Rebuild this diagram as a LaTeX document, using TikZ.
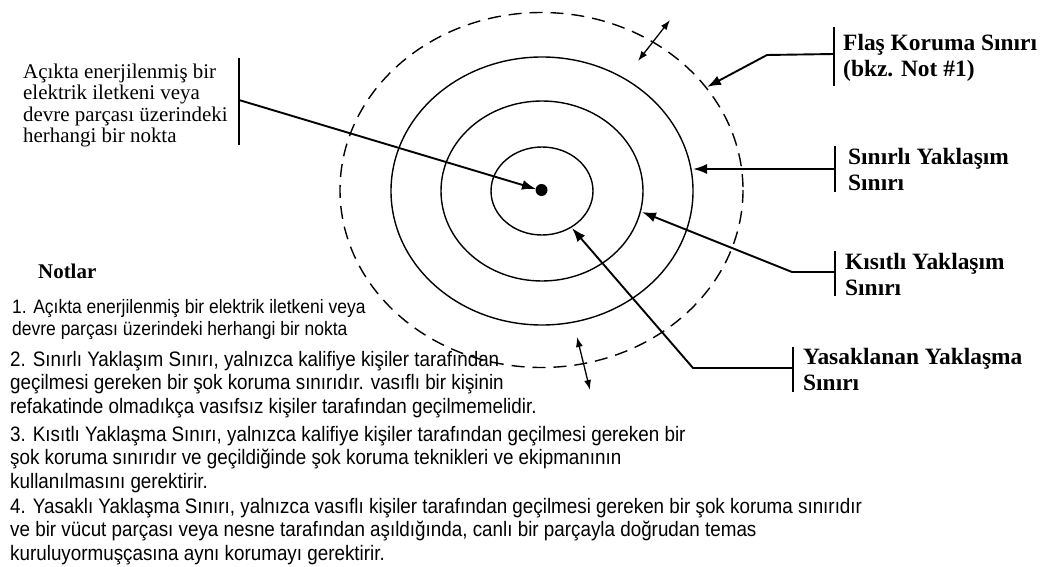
\documentclass[tikz,border=0pt]{standalone}
\usepackage{fontspec}
\setmainfont{Liberation Serif}
\newfontfamily\notefont[FakeStretch=0.9]{Liberation Sans}
\usetikzlibrary{arrows.meta}
\tikzset{
  ring/.style={line width=1.4bp},
  flashring/.style={line width=1.4bp, dash pattern=on 13bp off 8bp},
  pointer/.style={line width=1.9bp, line join=round, -{Latex[length=14bp,width=10bp]}},
  twoway/.style={line width=1.3bp, {Latex[length=10bp,width=7bp]}-{Latex[length=10bp,width=7bp]}},
  tbar/.style={line width=2.6bp},
  lbl/.style={inner sep=0pt, anchor=base west, align=left, font=\fontsize{23.5}{26.5}\selectfont\bfseries},
  lefttxt/.style={inner sep=0pt, anchor=base west, align=left, font=\fontsize{21}{21.7}\selectfont},
  notehead/.style={inner sep=0pt, anchor=base west, font=\fontsize{21}{24}\selectfont\bfseries},
  notetxt/.style={inner sep=0pt, anchor=base west, align=left, font=\notefont\fontsize{21}{23.8}\selectfont},
  notetxtsm/.style={inner sep=0pt, anchor=base west, align=left, font=\notefont\fontsize{19.5}{22}\selectfont}
}
\begin{document}
\begin{tikzpicture}[x=1bp,y=-1bp]
\useasboundingbox[fill=white] (0,0) rectangle (1053,567);
% rings
\coordinate (c) at (541.5,190);
\draw[flashring] (c) ellipse [x radius=201.5, y radius=177.5];
\draw[ring] (542,191) ellipse [x radius=151, y radius=134];
\draw[ring] (542,191) ellipse [x radius=101, y radius=90];
\draw[ring] (542,191) ellipse [x radius=51, y radius=44];
\fill (c) circle [radius=6];
% double arrows
\coordinate (ta1) at (638,61);
\coordinate (ta2) at (670,20);
\draw[twoway] (ta1) -- (ta2);
\coordinate (ba1) at (577,337);
\coordinate (ba2) at (590,390);
\draw[twoway] (ba1) -- (ba2);
% left label (base = last line)
\node[lefttxt] (pt) at (23,143) {Açıkta enerjilenmiş bir\\elektrik iletkeni veya\\devre parçası üzerindeki\\herhangi bir nokta};
\coordinate (ptb1) at (239,58); \coordinate (ptb2) at (239,145);
\draw[tbar] (ptb1) -- (ptb2);
\coordinate (ptj) at (239,100);
\coordinate (pttip) at (536,189);
\draw[pointer] (ptj) -- (pttip);
% flash label
\node[lbl] (fl) at (843,76.5) {Flaş Koruma Sınırı\\(bkz. Not \#1)};
\coordinate (flb1) at (834,27); \coordinate (flb2) at (834,86);
\draw[tbar] (flb1) -- (flb2);
\coordinate (flj) at (834,54); \coordinate (flk) at (767,55); \coordinate (fltip) at (707,87);
\draw[pointer] (flj) -- (flk) -- (fltip);
% limited
\node[lbl] (li) at (848,190.5) {Sınırlı Yaklaşım\\Sınırı};
\coordinate (lib1) at (835,146); \coordinate (lib2) at (835,192);
\draw[tbar] (lib1) -- (lib2);
\coordinate (lij) at (835,169); \coordinate (litip) at (693,169);
\draw[pointer] (lij) -- (litip);
% restricted
\node[lbl] (re) at (845,295.5) {Kısıtlı Yaklaşım\\Sınırı};
\coordinate (reb1) at (835,251); \coordinate (reb2) at (835,296);
\draw[tbar] (reb1) -- (reb2);
\coordinate (rej) at (835,272); \coordinate (rek) at (792,272); \coordinate (retip) at (642,212);
\draw[pointer] (rej) -- (rek) -- (retip);
% prohibited
\node[lbl] (pr) at (803,390.5) {Yasaklanan Yaklaşma\\Sınırı};
\coordinate (prb1) at (793,347); \coordinate (prb2) at (793,392);
\draw[tbar] (prb1) -- (prb2);
\coordinate (prj) at (793,368); \coordinate (prk) at (693,368); \coordinate (prtip) at (572,228);
\draw[pointer] (prj) -- (prk) -- (prtip);
% notes
\node[notehead] (nh) at (38,279) {Notlar};
\node[notetxtsm] (n1) at (12,335) {1. Açıkta enerjilenmiş bir elektrik iletkeni veya\\devre parçası üzerindeki herhangi bir nokta};
\node[notetxt] (n2) at (10,413.6) {2. Sınırlı Yaklaşım Sınırı, yalnızca kalifiye kişiler tarafından\\geçilmesi gereken bir şok koruma sınırıdır. vasıflı bir kişinin\\refakatinde olmadıkça vasıfsız kişiler tarafından geçilmemelidir.};
\node[notetxt] (n3) at (10,488.6) {3. Kısıtlı Yaklaşma Sınırı, yalnızca kalifiye kişiler tarafından geçilmesi gereken bir\\şok koruma sınırıdır ve geçildiğinde şok koruma teknikleri ve ekipmanının\\kullanılmasını gerektirir.};
\node[notetxt] (n4) at (10,560.6) {4. Yasaklı Yaklaşma Sınırı, yalnızca vasıflı kişiler tarafından geçilmesi gereken bir şok koruma sınırıdır\\ve bir vücut parçası veya nesne tarafından aşıldığında, canlı bir parçayla doğrudan temas\\kuruluyormuşçasına aynı korumayı gerektirir.};
\end{tikzpicture}
\end{document}
